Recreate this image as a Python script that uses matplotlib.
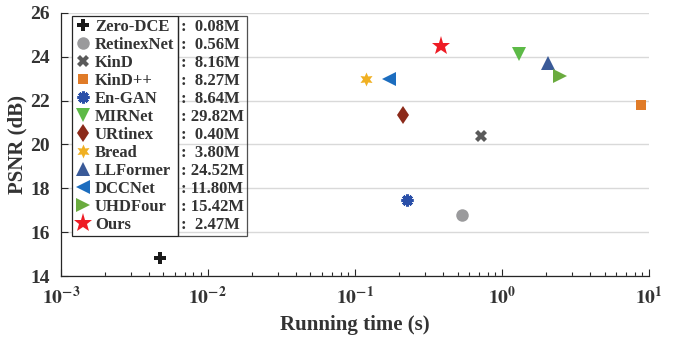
import matplotlib
matplotlib.use("Agg")
import matplotlib.pyplot as plt
from matplotlib.lines import Line2D

# данные: время работы (с), PSNR (дБ), число параметров
methods = ['Zero-DCE', 'RetinexNet', 'KinD', 'KinD++', 'En-GAN', 'MIRNet',
           'URtinex', 'Bread', 'LLFormer', 'DCCNet', 'UHDFour', 'Ours']
runtime = [0.0047, 0.54, 0.72, 8.8, 0.227, 1.30, 0.214, 0.119, 2.06, 0.172, 2.50, 0.385]
psnr = [14.84, 16.77, 20.39, 21.80, 17.47, 24.13, 21.34, 22.97, 23.73, 22.97, 23.12, 24.51]
params = ['0.08M', '0.56M', '8.16M', '8.27M', '8.64M', '29.82M',
          '0.40M', '3.80M', '24.52M', '11.80M', '15.42M', '2.47M']
xticks = [1e-3, 1e-2, 1e-1, 1e0, 1e1]
xtick_labels = ['$\\mathbf{10^{-3}}$', '$\\mathbf{10^{-2}}$', '$\\mathbf{10^{-1}}$',
                '$\\mathbf{10^{0}}$', '$\\mathbf{10^{1}}$']
yticks = [14, 16, 18, 20, 22, 24, 26]
ytick_labels = ['14', '16', '18', '20', '22', '24', '26']

markers = ['P', 'o', 'X', 's', (8, 2, 0), 'v', 'd', (6, 1, 0), '^', '<', '>', '*']
colors = ['#1a1a1a', '#9a9a9c', '#5a5a5a', '#e07b28', '#2a4fa8', '#5dba47',
          '#8c2a1a', '#f0b022', '#3a5a98', '#1c6dbf', '#6aab3e', '#ee1c25']
sizes = [8.5, 9, 8.5, 7, 8.5, 10, 9.5, 10, 10, 10, 10, 14]

plt.rcParams['font.family'] = ['Liberation Serif', 'DejaVu Serif']
plt.rcParams['font.weight'] = 'bold'
plt.rcParams['axes.labelweight'] = 'bold'
plt.rcParams['mathtext.fontset'] = 'stix'
txt = '#333333'

fig = plt.figure(figsize=(6.83, 3.37), dpi=100)
ax = fig.add_axes([0.0889, 0.181, 0.861, 0.7805])

for i in range(len(methods)):
    m = markers[i]
    mew = 2.2 if m == (8, 2, 0) else 0
    ax.plot(runtime[i], psnr[i], linestyle='none', marker=m, markersize=sizes[i],
            color=colors[i], markeredgecolor=colors[i], markeredgewidth=mew,
            label=methods[i], zorder=3)

ax.set_xscale('log')
ax.set_xlim(1e-3, 1e1)
ax.set_ylim(14, 26)
ax.set_yticks(yticks)
ax.set_yticklabels(ytick_labels, fontweight='bold', fontsize=14)
ax.set_xticks(xticks)
ax.set_xticklabels(xtick_labels, fontsize=14)
ax.grid(axis='y', color='#d9d9d9', linewidth=1)
ax.set_axisbelow(True)

for s in ['top', 'right']:
    ax.spines[s].set_visible(False)
for s in ['left', 'bottom']:
    ax.spines[s].set_color('#262626')
    ax.spines[s].set_linewidth(0.9)

ax.tick_params(which='major', direction='in', length=5, width=0.8, colors='#262626',
               labelcolor=txt)
ax.tick_params(which='minor', direction='in', length=3, width=0.8, colors='#262626')
ax.tick_params(axis='y', pad=8)
ax.tick_params(axis='x', pad=7)

ax.set_xlabel('Running time (s)', fontsize=15, color=txt, labelpad=5)
ax.set_ylabel('PSNR (dB)', fontsize=15, color=txt, labelpad=2)

prop = {'weight': 'bold', 'size': 12}
leg1 = ax.legend(loc='upper left', bbox_to_anchor=(0.0197, 0.9897), borderaxespad=0,
                 prop=prop, frameon=True, fancybox=False, framealpha=1,
                 edgecolor='#262626', labelspacing=0.12, handlelength=0.9,
                 handletextpad=0.25, borderpad=0.2, labelcolor=txt)
leg1.get_frame().set_linewidth(0.9)
ax.add_artist(leg1)

# второй столбец: число параметров
fig.canvas.draw()
bb = leg1.get_window_extent().transformed(ax.transAxes.inverted())
empty = [Line2D([], [], linestyle='none') for _ in params]
labels2 = [': ' + p if len(p) == 6 else ':  ' + p for p in params]
leg2 = ax.legend(empty, labels2, loc='upper left', bbox_to_anchor=(bb.x1, bb.y1),
                 borderaxespad=0, prop=prop, frameon=True, fancybox=False,
                 edgecolor='#262626', facecolor='none', labelspacing=0.12,
                 handlelength=0, handletextpad=0, borderpad=0.2, labelcolor=txt)
leg2.get_frame().set_linewidth(0.9)

fig.savefig('out.png', dpi=100)
